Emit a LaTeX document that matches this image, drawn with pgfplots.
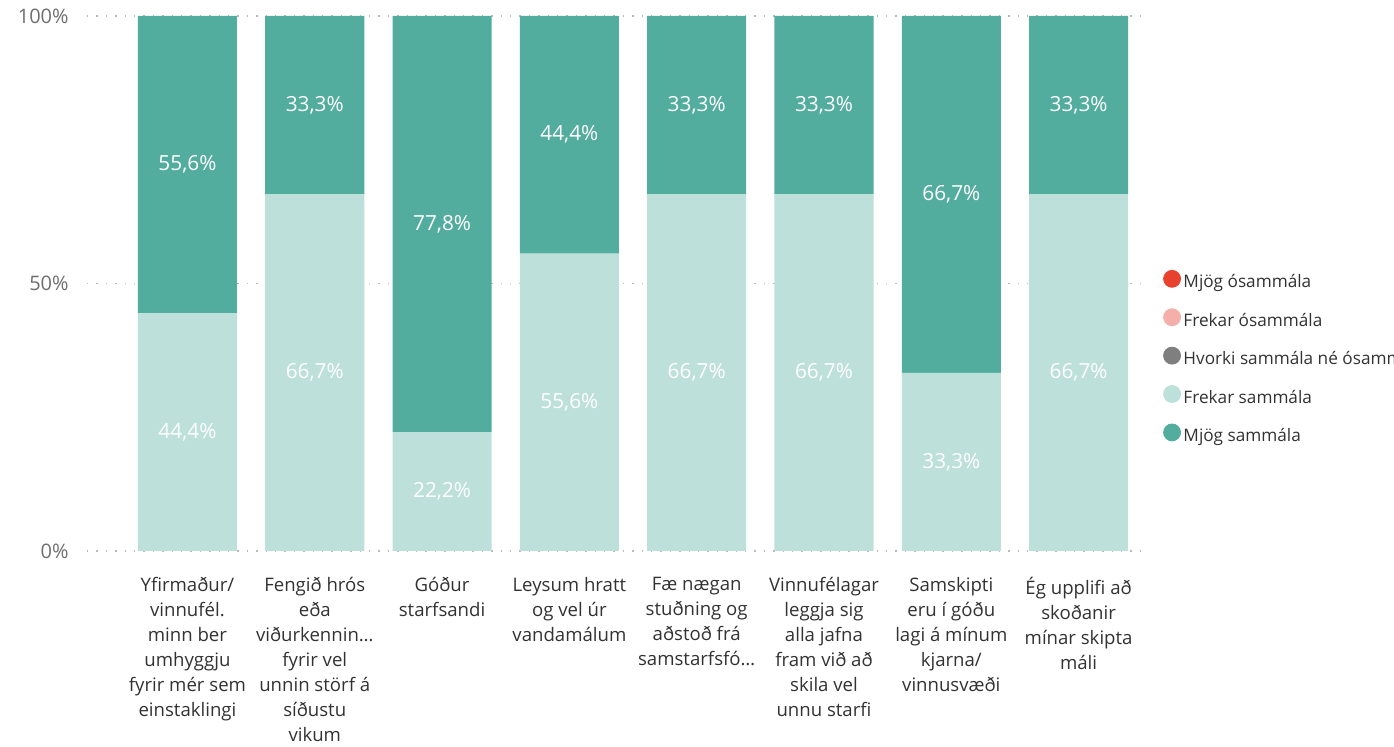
\documentclass[border=0pt]{standalone}
\usepackage{fontspec}
\setmainfont{Open Sans}
\usepackage{pgfplots}
\pgfplotsset{compat=1.18}
\definecolor{cDark}{RGB}{83,173,158}
\definecolor{cLight}{RGB}{189,224,218}
\definecolor{cRed}{RGB}{232,65,46}
\definecolor{cPink}{RGB}{245,175,170}
\definecolor{cGray}{RGB}{127,127,127}
\definecolor{txtDark}{RGB}{50,50,50}
\definecolor{txtTick}{RGB}{110,110,110}

\pgfplotsset{
  common/.style={
    scale only axis,
    width=530pt, height=267.5pt,
    xmin=-0.789, xmax=7.537,
    ymin=0, ymax=100,
    at={(0,0)}, anchor=south west,
  },
}

\begin{document}
\begin{tikzpicture}
\begin{axis}[
  common,
  ybar stacked,
  bar width=0.778,
  axis line style={draw=none},
  major tick length=0pt,
  ytick={0,50,100},
  yticklabels={0\%,50\%,100\%},
  yticklabel style={font=\fontsize{10}{12}\selectfont, text=txtTick, anchor=east, inner sep=0pt, xshift=-9pt},
  xtick={0,...,7},
  xticklabels={
    {Yfirmaður/\\vinnufél.\\minn ber\\umhyggju\\fyrir mér sem\\einstaklingi},
    {Fengið hrós\\eða\\viðurkennin…\\fyrir vel\\unnin störf á\\síðustu\\vikum},
    {Góður\\starfsandi},
    {Leysum hratt\\og vel úr\\vandamálum},
    {Fæ nægan\\stuðning og\\aðstoð frá\\samstarfsfó…},
    {Vinnufélagar\\leggja sig\\alla jafna\\fram við að\\skila vel\\unnu starfi},
    {Samskipti\\eru í góðu\\lagi á mínum\\kjarna/\\vinnusvæði},
    {Ég upplifi að\\skoðanir\\mínar skipta\\máli}},
  xticklabel style={font=\fontsize{9.3}{12.5}\selectfont, text=txtDark, align=center, anchor=north, inner sep=0pt, yshift=-13pt},
  ymajorgrids,
  grid style={gray!55, line width=0.7pt, dash pattern=on 0.7pt off 4pt},
  legend style={draw=none, fill=none, inner sep=0pt, at={(1.0149,0.5261)}, anchor=north west,
    font=\fontsize{8.6}{10}\selectfont, text=txtDark, row sep=8.25pt, column sep=1.25pt,
    nodes={inner sep=0pt, text height=6.5pt, text depth=2pt}},
  legend cell align=left,
]
\addlegendimage{legend image code/.code={\fill[cRed] (4.25pt,2.25pt) circle (4.25pt);}}
\addlegendentry{Mjög ósammála}
\addlegendimage{legend image code/.code={\fill[cPink] (4.25pt,2.25pt) circle (4.25pt);}}
\addlegendentry{Frekar ósammála}
\addlegendimage{legend image code/.code={\fill[cGray] (4.25pt,2.25pt) circle (4.25pt);}}
\addlegendentry{Hvorki sammála né ósammála}
\addlegendimage{legend image code/.code={\fill[cLight] (4.25pt,2.25pt) circle (4.25pt);}}
\addlegendentry{Frekar sammála}
\addlegendimage{legend image code/.code={\fill[cDark] (4.25pt,2.25pt) circle (4.25pt);}}
\addlegendentry{Mjög sammála}

% Frekar sammála
\addplot[fill=cLight, draw=none, forget plot] coordinates {
  (0,44.4) (1,66.7) (2,22.2) (3,55.6) (4,66.7) (5,66.7) (6,33.3) (7,66.7)};
% Mjög sammála
\addplot[fill=cDark, draw=none, forget plot] coordinates {
  (0,55.6) (1,33.3) (2,77.8) (3,44.4) (4,33.3) (5,33.3) (6,66.7) (7,33.3)};
\end{axis}

% data labels, centred in each segment
\begin{axis}[
  common,
  hide axis,
  nodes near coords,
  point meta=explicit symbolic,
  every node near coord/.style={anchor=center, font=\fontsize{10.4}{12}\selectfont, text=white},
]
\addplot[draw=none, mark=none] coordinates {
  (0,22.2)[44,4\%] (1,33.35)[66,7\%] (2,11.1)[22,2\%] (3,27.8)[55,6\%]
  (4,33.35)[66,7\%] (5,33.35)[66,7\%] (6,16.65)[33,3\%] (7,33.35)[66,7\%]};
\addplot[draw=none, mark=none] coordinates {
  (0,72.2)[55,6\%] (1,83.35)[33,3\%] (2,61.1)[77,8\%] (3,77.8)[44,4\%]
  (4,83.35)[33,3\%] (5,83.35)[33,3\%] (6,66.65)[66,7\%] (7,83.35)[33,3\%]};
\end{axis}

\pgfresetboundingbox
\path[use as bounding box] (-43.5pt,-98pt) rectangle (653.5pt,275.5pt);
\end{tikzpicture}
\end{document}
